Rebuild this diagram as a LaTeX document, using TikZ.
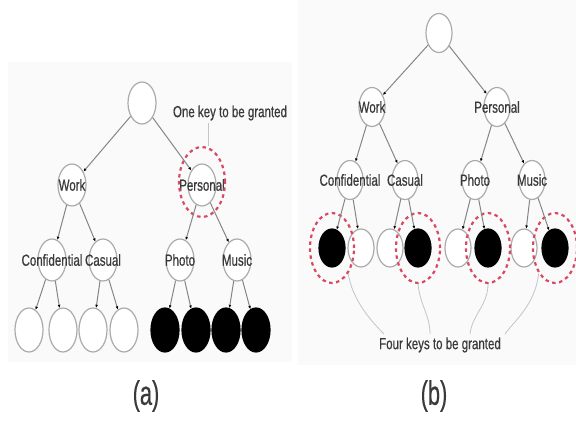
\documentclass[tikz,border=0pt]{standalone}
\usepackage{fontspec}
\setmainfont{Liberation Sans}[FakeStretch=0.72,FakeBold=0.6]
\newfontfamily\capfont{Liberation Sans}[FakeStretch=0.64,FakeBold=0.4]
\usetikzlibrary{shapes.geometric,arrows.meta}
\definecolor{nodegray}{HTML}{ABABAB}
\definecolor{linegray}{HTML}{858585}
\definecolor{txtgray}{HTML}{3A3A3A}
\definecolor{keyred}{HTML}{D74B62}
\definecolor{faint}{HTML}{BFC6CC}
\definecolor{panelbg}{HTML}{FAFAFA}
\begin{document}
\begin{tikzpicture}[x=1pt,y=-1pt,
  nd/.style={ellipse,draw=nodegray,line width=1.2pt,fill=white,inner sep=0pt,minimum width=28pt,minimum height=42pt},
  ndb/.style={nd,minimum width=26pt,minimum height=39pt},
  blk/.style={fill=black,draw=black},
  lbl/.style={font=\fontsize{16}{18}\selectfont,text=txtgray,inner sep=0pt},
  edge/.style={draw=linegray,line width=1pt,-{Latex[length=3.2pt,width=2.8pt,color=black]}},
  ring/.style={ellipse,draw=keyred,dash pattern=on 3.5pt off 3.5pt,line width=2.2pt,inner sep=0pt,minimum width=46pt,minimum height=70pt},
  curve/.style={draw=faint,line width=0.8pt}
]
\useasboundingbox (0,0) rectangle (576,422);
\fill[panelbg] (8,62) rectangle (292,362);
\fill[panelbg] (298,0) rectangle (576,365);

% ---------- panel (a) ----------
\node[nd] (rootA) at (142,103) {};
\node[nd,label={[lbl]center:Work}] (workA) at (72,185) {};
\node[nd,label={[lbl]center:Personal}] (persA) at (202,185) {};
\node[nd,label={[lbl]center:Confidential}] (confA) at (52,260) {};
\node[nd,label={[lbl]center:Casual}] (casA) at (103,260) {};
\node[nd,label={[lbl]center:Photo}] (photoA) at (180,260) {};
\node[nd,label={[lbl]center:Music}] (musicA) at (237,260) {};
\foreach \i/\x in {1/29,2/63,3/93,4/124}
  \node[nd,minimum height=44pt] (a\i) at (\x,330) {};
\foreach \i/\x in {5/165,6/196,7/226,8/256}
  \node[nd,blk,minimum height=44pt] (a\i) at (\x,330) {};
\node[ring] (pring) at (202,182) {};

\draw[edge] (rootA) -- (workA);
\draw[edge] (rootA) -- (persA);
\draw[edge] (workA) -- (confA);
\draw[edge] (workA) -- (casA);
\draw[edge] (persA) -- (photoA);
\draw[edge] (persA) -- (musicA);
\draw[edge] (confA) -- (a1);
\draw[edge] (confA) -- (a2);
\draw[edge] (casA) -- (a3);
\draw[edge] (casA) -- (a4);
\draw[edge] (photoA) -- (a5);
\draw[edge] (photoA) -- (a6);
\draw[edge] (musicA) -- (a7);
\draw[edge] (musicA) -- (a8);

\node[lbl] (onekey) at (230,113) {One key to be granted};
\coordinate (ok) at (208,123);
\draw[curve] (ok) -- (ok |- pring.north);

\node[font=\capfont\fontsize{34}{38}\selectfont,text=txtgray,inner sep=0pt] (capA) at (146,396) {(a)};

% ---------- panel (b) ----------
\node[ndb] (rootB) at (439,33) {};
\node[ndb,label={[lbl]center:Work}] (workB) at (372,107) {};
\node[ndb,label={[lbl]center:Personal}] (persB) at (497,107) {};
\node[ndb,label={[lbl]center:Confidential}] (confB) at (350,180) {};
\node[ndb,label={[lbl]center:Casual}] (casB) at (405,180) {};
\node[ndb,label={[lbl]center:Photo}] (photoB) at (475,180) {};
\node[ndb,label={[lbl]center:Music}] (musicB) at (532,180) {};
\foreach \i/\x in {2/361,3/390,5/458,7/524}
  \node[ndb,minimum height=38pt] (b\i) at (\x,248) {};
\foreach \i/\x in {1/332,4/418,6/488,8/555}
  \node[ndb,blk,minimum height=38pt] (b\i) at (\x,248) {};
\foreach \i in {1,4,6,8}
  \node[ring,minimum width=44pt,minimum height=70pt] (r\i) at (b\i) {};

\draw[edge] (rootB) -- (workB);
\draw[edge] (rootB) -- (persB);
\draw[edge] (workB) -- (confB);
\draw[edge] (workB) -- (casB);
\draw[edge] (persB) -- (photoB);
\draw[edge] (persB) -- (musicB);
\draw[edge] (confB) -- (b1);
\draw[edge] (confB) -- (b2);
\draw[edge] (casB) -- (b3);
\draw[edge] (casB) -- (b4);
\draw[edge] (photoB) -- (b5);
\draw[edge] (photoB) -- (b6);
\draw[edge] (musicB) -- (b7);
\draw[edge] (musicB) -- (b8);

\node[lbl] (four) at (440,345) {Four keys to be granted};
\coordinate (f1) at (384,334);
\coordinate (f2) at (430,334);
\coordinate (f3) at (470,334);
\coordinate (f4) at (505,334);
\draw[curve] (r1.south east) .. controls (352,300) and (372,322) .. (f1);
\draw[curve] (r4.south) .. controls (420,305) and (430,315) .. (f2);
\draw[curve] (r6.south) .. controls (488,305) and (472,315) .. (f3);
\draw[curve] (r8.south west) .. controls (535,305) and (515,320) .. (f4);

\node[font=\capfont\fontsize{34}{38}\selectfont,text=txtgray,inner sep=0pt] (capB) at (434,396) {(b)};
\end{tikzpicture}
\end{document}
